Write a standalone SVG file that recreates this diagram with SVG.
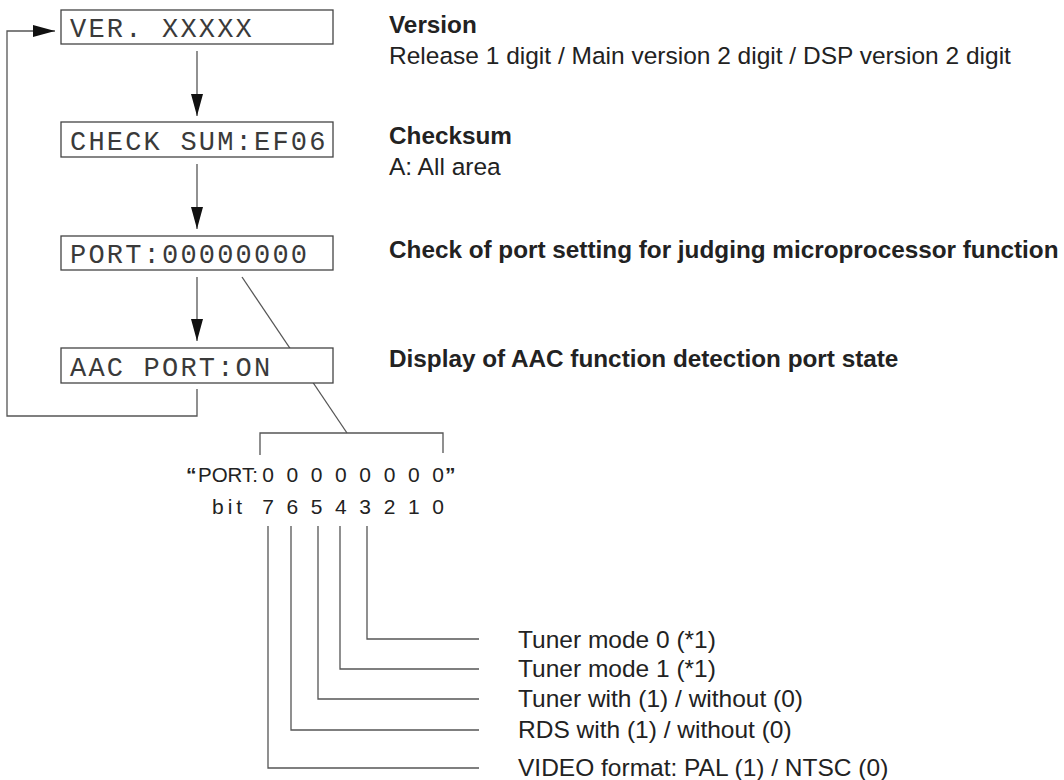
<svg xmlns="http://www.w3.org/2000/svg" width="1064" height="780" viewBox="0 0 1064 780">
<style>
.box{fill:#fff;stroke:#444;stroke-width:1.3}
.lcd{font-family:"Liberation Mono",monospace;font-size:27px;fill:#3a3a3a;letter-spacing:2.2px}
.ln{fill:none;stroke:#555;stroke-width:1.3}
.hd{font-family:"Liberation Sans",Arial,sans-serif;font-size:24.3px;font-weight:bold;fill:#222}
.tx{font-family:"Liberation Sans",Arial,sans-serif;font-size:24.5px;fill:#222}
.dg{font-family:"Liberation Sans",Arial,sans-serif;font-size:21px;fill:#222;text-anchor:middle}
</style>
<defs>
<marker id="ah" markerWidth="22" markerHeight="12" refX="22" refY="6" orient="auto" markerUnits="userSpaceOnUse" viewBox="0 0 22 12">
<path d="M0,0 L22,6 L0,12 Z" fill="#111"/>
</marker>
</defs>
<g id="connectors">
<line class="ln" x1="197" y1="51" x2="197" y2="116" marker-end="url(#ah)"/>
<line class="ln" x1="197" y1="164" x2="197" y2="229" marker-end="url(#ah)"/>
<line class="ln" x1="197" y1="277" x2="197" y2="341" marker-end="url(#ah)"/>
<polyline class="ln" points="197,389 197,416 7,416 7,31 55,31" marker-end="url(#ah)"/>
<line class="ln" x1="242" y1="277" x2="347" y2="433"/>
<polyline class="ln" points="260,455 260,433 443,433 443,453"/>
<polyline class="ln" points="367,526 367,639 479,639"/>
<polyline class="ln" points="340,526 340,669 479,669"/>
<polyline class="ln" points="318,526 318,699 479,699"/>
<polyline class="ln" points="291,526 291,730 479,730"/>
<polyline class="ln" points="268,526 268,768 479,768"/>
</g>
<g id="node-ver">
<rect class="box" x="61" y="10" width="272" height="34"/>
<text class="lcd" x="70" y="37">VER. XXXXX</text>
<text class="hd" x="389" y="33">Version</text>
<text class="tx" x="389" y="64">Release 1 digit / Main version 2 digit / DSP version 2 digit</text>
</g>
<g id="node-checksum">
<rect class="box" x="61" y="122" width="272" height="35"/>
<text class="lcd" x="70" y="150">CHECK SUM:EF06</text>
<text class="hd" x="389" y="144">Checksum</text>
<text class="tx" x="389" y="175">A: All area</text>
</g>
<g id="node-port">
<rect class="box" x="61" y="236" width="272" height="34"/>
<text class="lcd" x="70" y="263">PORT:00000000</text>
<text class="hd" x="389" y="258">Check of port setting for judging microprocessor function</text>
</g>
<g id="node-aac">
<rect class="box" x="61" y="348" width="272" height="35"/>
<text class="lcd" x="70" y="376">AAC PORT:ON</text>
<text class="hd" x="389" y="367">Display of AAC function detection port state</text>
</g>
<g id="node-bits">
<text class="tx" x="186" y="482" style="font-size:21px;font-weight:bold">“</text>
<text class="tx" x="198" y="482" style="font-size:21px" textLength="60" lengthAdjust="spacingAndGlyphs">PORT:</text>
<text class="dg" x="268" y="482">0</text>
<text class="dg" x="292.3" y="482">0</text>
<text class="dg" x="316.6" y="482">0</text>
<text class="dg" x="340.9" y="482">0</text>
<text class="dg" x="365.2" y="482">0</text>
<text class="dg" x="389.5" y="482">0</text>
<text class="dg" x="413.8" y="482">0</text>
<text class="dg" x="438.1" y="482">0</text>
<text class="tx" x="445" y="482" style="font-size:21px;font-weight:bold">”</text>
<text class="tx" x="212" y="514" style="font-size:21px;letter-spacing:4px">bit</text>
<text class="dg" x="268" y="514">7</text>
<text class="dg" x="292.3" y="514">6</text>
<text class="dg" x="316.6" y="514">5</text>
<text class="dg" x="340.9" y="514">4</text>
<text class="dg" x="365.2" y="514">3</text>
<text class="dg" x="389.5" y="514">2</text>
<text class="dg" x="413.8" y="514">1</text>
<text class="dg" x="438.1" y="514">0</text>
</g>
<g id="labels">
<text class="tx" x="518" y="648">Tuner mode 0 (*1)</text>
<text class="tx" x="518" y="677">Tuner mode 1 (*1)</text>
<text class="tx" x="518" y="707">Tuner with (1) / without (0)</text>
<text class="tx" x="518" y="738">RDS with (1) / without (0)</text>
<text class="tx" x="518" y="776">VIDEO format: PAL (1) / NTSC (0)</text>
</g>
</svg>
